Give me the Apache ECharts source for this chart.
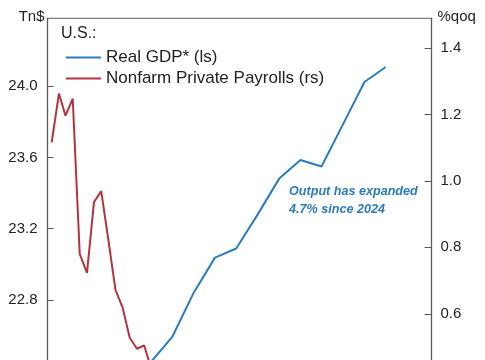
<!DOCTYPE html>
<html>
<head>
<meta charset="utf-8">
<script src="https://cdn.jsdelivr.net/npm/echarts@6/dist/echarts.min.js"></script>
<style>
html,body{margin:0;padding:0;background:#fff;overflow:hidden;width:485px;height:360px;}
#chart{width:485px;height:540px;}
</style>
</head>
<body>
<div id="chart"></div>
<script>
// Nonfarm private payrolls, %qoq (right scale), monthly
const payrollMonths = ['2022-01','2022-02','2022-03','2022-04','2022-05','2022-06','2022-07','2022-08','2022-09','2022-10','2022-11','2022-12','2023-01','2023-02','2023-03','2023-04','2023-05'];
const payrollGrowth = [1.116, 1.263, 1.196, 1.247, 0.780, 0.723, 0.936, 0.969, 0.820, 0.672, 0.618, 0.528, 0.495, 0.505, 0.440, 0.410, 0.400];

// Real GDP*, Tn$ (left scale), quarterly
const gdpQuarters = ['2022-12','2023-03','2023-06','2023-09','2023-12','2024-03','2024-06','2024-09','2024-12','2025-03','2025-06','2025-09','2025-12'];
const realGdp = [22.30, 22.449, 22.591, 22.840, 23.037, 23.088, 23.280, 23.481, 23.586, 23.549, 23.786, 24.024, 24.108];

const leftTicks = { min: 21.6, step: 0.4 };
const rightTicks = { min: 0.0, step: 0.2 };

const BLUE = '#2a7bc0';
const RED = '#b5323f';
const AXIS = '#5a5a5a';
const TEXT = '#222222';
const FONT = '"Liberation Sans", Arial, sans-serif';

const chart = echarts.init(document.getElementById('chart'), null, { renderer: 'canvas' });

chart.setOption({
  animation: false,
  backgroundColor: '#ffffff',
  textStyle: { fontFamily: FONT },
  title: {
    text: 'U.S.:',
    left: 61, top: 26, padding: 0,
    textStyle: { fontSize: 16, fontWeight: 'normal', color: TEXT, fontFamily: FONT }
  },
  legend: {
    orient: 'vertical',
    left: 66, top: 47, padding: 0,
    itemWidth: 35, itemHeight: 2, itemGap: 0,
    icon: 'rect',
    textStyle: { fontSize: 17, color: TEXT, lineHeight: 21, fontFamily: FONT },
    data: ['Real GDP* (ls)', 'Nonfarm Private Payrolls (rs)']
  },
  grid: {
    left: 47.5, top: 18.3, right: 53.5, height: 495,
    outerBoundsMode: 'none',
    show: true, borderColor: AXIS, borderWidth: 1, backgroundColor: 'transparent',
    containLabel: false
  },
  xAxis: {
    type: 'time',
    min: '2021-12-14', max: '2026-06-15',
    show: false
  },
  yAxis: [
    {
      type: 'value', position: 'left',
      min: leftTicks.min, max: 24.382, interval: leftTicks.step,
      name: 'Tn$', nameLocation: 'end', nameGap: 1,
      nameTextStyle: { align: 'right', verticalAlign: 'middle', fontSize: 15, color: TEXT, padding: [0, 3, 0, 0], fontFamily: FONT },
      axisLine: { show: true, lineStyle: { color: AXIS, width: 1.3 } },
      axisTick: { show: true, inside: true, length: 6, lineStyle: { color: AXIS, width: 1 } },
      axisLabel: { fontSize: 15, color: TEXT, margin: 10, showMaxLabel: false,
        formatter: v => v.toFixed(1), fontFamily: FONT },
      splitLine: { show: false }
    },
    {
      type: 'value', position: 'right',
      min: rightTicks.min, max: 1.489, interval: rightTicks.step,
      name: '%qoq', nameLocation: 'end', nameGap: 1,
      nameTextStyle: { align: 'left', verticalAlign: 'middle', fontSize: 15, color: TEXT, padding: [0, 0, 0, 6], fontFamily: FONT },
      axisLine: { show: true, lineStyle: { color: AXIS, width: 1.3 } },
      axisTick: { show: true, inside: true, length: 7, lineStyle: { color: AXIS, width: 1 } },
      axisLabel: { fontSize: 15, color: TEXT, margin: 9, showMaxLabel: false,
        formatter: v => v.toFixed(1), fontFamily: FONT },
      splitLine: { show: false }
    }
  ],
  graphic: [
    {
      type: 'text', left: 289, top: 183,
      style: {
        text: 'Output has expanded\n4.7% since 2024',
        fill: BLUE,
        font: 'italic bold 12.6px "Liberation Sans", Arial, sans-serif',
        lineHeight: 17.5
      }
    }
  ],
  series: [
    {
      name: 'Real GDP* (ls)', type: 'line', yAxisIndex: 0,
      data: gdpQuarters.map((d, i) => [d, realGdp[i]]),
      showSymbol: false, symbol: 'none',
      lineStyle: { color: BLUE, width: 2 }, itemStyle: { color: BLUE },
      z: 3
    },
    {
      name: 'Nonfarm Private Payrolls (rs)', type: 'line', yAxisIndex: 1,
      data: payrollMonths.map((d, i) => [d, payrollGrowth[i]]),
      showSymbol: false, symbol: 'none',
      lineStyle: { color: RED, width: 2 }, itemStyle: { color: RED },
      z: 2
    }
  ]
});
</script>
</body>
</html>
